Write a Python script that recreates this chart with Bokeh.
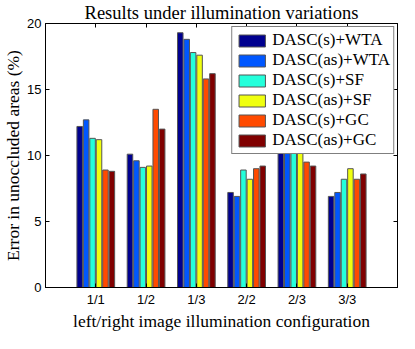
from bokeh.plotting import figure
from bokeh.models import ColumnDataSource, Range1d, FixedTicker, LinearAxis
from bokeh.transform import dodge
from bokeh.embed import file_html
from bokeh.resources import INLINE

categories = ["1/1", "1/2", "1/3", "2/2", "2/3", "3/3"]
series_names = ["DASC(s)+WTA", "DASC(as)+WTA", "DASC(s)+SF", "DASC(as)+SF", "DASC(s)+GC", "DASC(as)+GC"]
dasc_s_wta = [12.2, 10.1, 19.3, 7.2, 12.4, 6.9]
dasc_as_wta = [12.7, 9.6, 18.8, 6.9, 12.1, 7.2]
dasc_s_sf = [11.3, 9.1, 17.8, 8.9, 11.8, 8.2]
dasc_as_sf = [11.2, 9.2, 17.6, 8.2, 11.6, 9.0]
dasc_s_gc = [8.9, 13.5, 15.8, 9.0, 9.5, 8.2]
dasc_as_gc = [8.8, 12.0, 16.2, 9.2, 9.2, 8.6]
y_ticks = [0, 5, 10, 15, 20]

colors = ["#00008F", "#0057FF", "#24FFDB", "#F0FF0F", "#FF4A00", "#800000"]
series = [dasc_s_wta, dasc_as_wta, dasc_s_sf, dasc_as_sf, dasc_s_gc, dasc_as_gc]

xs = list(range(1, len(categories) + 1))
data = {"x": xs}
for i, s in enumerate(series):
    data["s%d" % i] = s
src = ColumnDataSource(data)

SERIF = "Liberation Serif"
SANS = "Liberation Sans"

p = figure(width=399, height=333, x_range=Range1d(0, 7), y_range=Range1d(0, 20),
           output_backend="svg", toolbar_location=None,
           min_border_left=2, min_border_right=2, min_border_top=1, min_border_bottom=1,
           title="Results under illumination variations")

p.title.align = "center"
p.title.text_font = SERIF
p.title.text_font_size = "18.5px"
p.title.text_font_style = "normal"
p.title.text_color = "black"
p.title.standoff = 1
p.title.offset = 0

p.xgrid.visible = False
p.ygrid.visible = False
p.outline_line_color = "black"
p.outline_line_width = 1
p.background_fill_color = "white"

step = 0.128
for i, (name, col) in enumerate(zip(series_names, colors)):
    off = (i - 2.5) * step
    p.vbar(x=dodge("x", off), top="s%d" % i, width=0.11, bottom=0, source=src,
           fill_color=col, line_color="#555555", line_width=1, legend_label=name)

xt = FixedTicker(ticks=xs)
yt = FixedTicker(ticks=y_ticks)

xa = p.xaxis[0]
xa.ticker = xt
xa.major_label_overrides = {x: c for x, c in zip(xs, categories)}
xa.axis_label = "left/right image illumination configuration"

ya = p.yaxis[0]
ya.ticker = yt
ya.axis_label = "Error in unoccluded areas (%)"

for ax in (xa, ya):
    ax.major_tick_in = 4
    ax.major_tick_out = 0
    ax.minor_tick_line_color = None
    ax.axis_line_color = "black"
    ax.major_tick_line_color = "black"
    ax.major_label_text_font = SANS
    ax.major_label_text_font_size = "13px"
    ax.major_label_text_color = "black"
    ax.axis_label_text_font = SERIF
    ax.axis_label_text_font_size = "17.5px"
    ax.axis_label_text_font_style = "normal"
    ax.axis_label_text_color = "black"
    ax.axis_label_standoff = 1
ya.major_label_standoff = 4
xa.major_label_standoff = 4

top_ax = LinearAxis(ticker=xt, major_label_text_font_size="1px", major_label_text_color=None,
                    major_tick_in=4, major_tick_out=0,
                    minor_tick_line_color=None, axis_line_color="black", major_label_standoff=0)
right_ax = LinearAxis(ticker=yt, major_label_text_font_size="1px", major_label_text_color=None,
                      major_tick_in=4, major_tick_out=0,
                      minor_tick_line_color=None, axis_line_color="black", major_label_standoff=0)
p.add_layout(top_ax, "above")
p.add_layout(right_ax, "right")

lg = p.legend[0]
lg.location = "top_right"
lg.border_line_color = "black"
lg.border_line_width = 1
lg.background_fill_color = "white"
lg.background_fill_alpha = 1
lg.label_text_font = SERIF
lg.label_text_font_size = "17px"
lg.label_text_color = "black"
lg.glyph_width = 33
lg.glyph_height = 15
lg.label_height = 19
lg.spacing = 0
lg.padding = 3
lg.margin = 3
lg.label_standoff = 4

open("out.html", "w").write(file_html(p, INLINE))
